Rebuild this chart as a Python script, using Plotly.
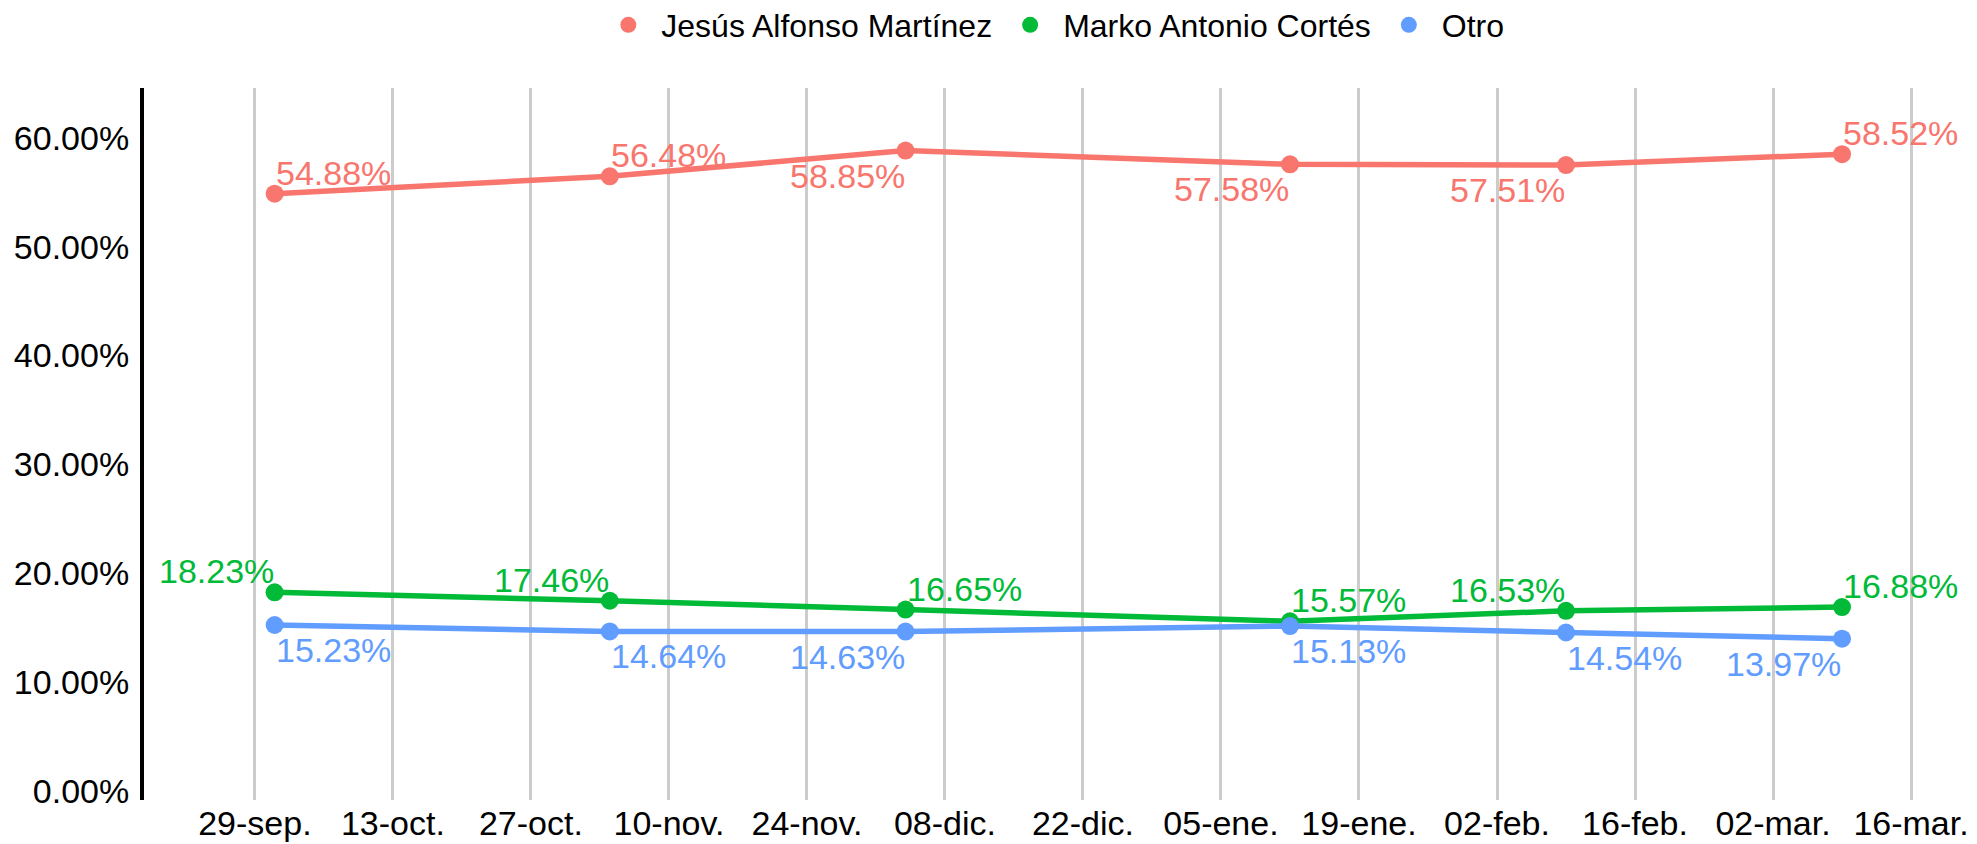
import plotly.graph_objects as go

# survey dates (points) and values in percent
fechas = ["2022-10-01", "2022-11-04", "2022-12-04", "2023-01-12", "2023-02-09", "2023-03-09"]
jesus = [54.88, 56.48, 58.85, 57.58, 57.51, 58.52]
marko = [18.23, 17.46, 16.65, 15.57, 16.53, 16.88]
otro = [15.23, 14.64, 14.63, 15.13, 14.54, 13.97]

# where each data label sits relative to its point
pos_jesus = ["top right", "top right", "bottom left", "bottom left", "bottom left", "top right"]
pos_marko = ["top left", "top left", "top right", "top right", "top left", "top right"]
pos_otro = ["bottom right", "bottom right", "bottom left", "bottom right", "bottom right", "bottom left"]

# x tick labels every 14 days
tick_fechas = ["2022-09-29", "2022-10-13", "2022-10-27", "2022-11-10", "2022-11-24", "2022-12-08",
               "2022-12-22", "2023-01-05", "2023-01-19", "2023-02-02", "2023-02-16", "2023-03-02",
               "2023-03-16"]
tick_textos = ["29-sep.", "13-oct.", "27-oct.", "10-nov.", "24-nov.", "08-dic.", "22-dic.",
               "05-ene.", "19-ene.", "02-feb.", "16-feb.", "02-mar.", "16-mar."]

y_ticks = [0, 10, 20, 30, 40, 50, 60]

FONT = "Liberation Sans, Arial, sans-serif"
FS = 34
OFF = 8  # the page body adds an 8px margin around the figure

series = [
    ("Jesús Alfonso Martínez", jesus, pos_jesus, "#F8766D"),
    ("Marko Antonio Cortés", marko, pos_marko, "#00BA38"),
    ("Otro", otro, pos_otro, "#619CFF"),
]

fig = go.Figure()
annotations = []
for nombre, vals, pos, color in series:
    fig.add_trace(go.Scatter(
        x=fechas,
        y=vals,
        name=nombre,
        mode="lines+markers",
        line=dict(color=color, width=5.5),
        marker=dict(color=color, size=18),
        showlegend=False,
    ))
    # legend entry: dot only
    fig.add_trace(go.Scatter(
        x=[None], y=[None], name=nombre, mode="markers",
        marker=dict(color=color, size=18),
    ))
    for f, v, p in zip(fechas, vals, pos):
        vert, horiz = p.split()
        annotations.append(dict(
            x=f, y=v, xref="x", yref="y",
            text=f"{v:.2f}%",
            showarrow=False,
            font=dict(color=color, size=FS, family=FONT),
            xanchor="left" if horiz == "right" else "right",
            yanchor="bottom" if vert == "top" else "top",
            yshift=1 if vert == "top" else -5,
            borderpad=0,
        ))

fig.update_layout(
    width=1977,
    height=844,
    margin=dict(l=144 - OFF, r=52 + OFF, t=88 - OFF, b=44 + OFF),
    plot_bgcolor="white",
    paper_bgcolor="white",
    font=dict(family=FONT, size=FS, color="black"),
    showlegend=True,
    annotations=annotations,
    legend=dict(
        orientation="h",
        x=0.51, xanchor="center",
        yref="container", y=1 - (25 - OFF) / 844, yanchor="middle",
        font=dict(size=32, family=FONT),
        itemwidth=56,
    ),
    xaxis=dict(
        range=["2022-09-17 18:00", "2023-03-17 10:00"],
        tickvals=tick_fechas,
        ticktext=tick_textos,
        showgrid=True,
        gridcolor="#CCCCCC",
        gridwidth=3,
        zeroline=False,
        showline=False,
        ticks="",
        automargin=False,
    ),
    yaxis=dict(
        range=[-0.86, 64.6],
        tickvals=y_ticks,
        ticktext=[f"{v:.2f}%" for v in y_ticks],
        showgrid=False,
        zeroline=False,
        showline=True,
        linecolor="black",
        linewidth=4,
        ticks="outside",
        ticklen=4,
        tickcolor="rgba(0,0,0,0)",
        automargin=False,
    ),
)

fig.write_html("out.html")
